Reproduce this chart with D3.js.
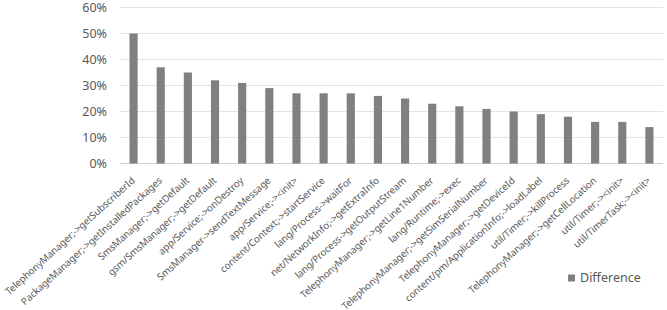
<!DOCTYPE html>
<html><head><meta charset="utf-8">
<script src="https://cdn.jsdelivr.net/npm/d3@7"></script>
<style>body{margin:0;background:#fff;}svg{display:block;}</style>
</head><body>
<svg id="c" width="667" height="310"></svg>
<script>
const categories = [
"TelephonyManager;->getSubscriberId","PackageManager;->getInstalledPackages","SmsManager;->getDefault",
"gsm/SmsManager;->getDefault","app/Service;->onDestroy","SmsManager->sendTextMessage","app/Service;-><init>",
"content/Context;->startService","lang/Process->waitFor","net/NetworkInfo;->getExtraInfo",
"lang/Process->getOutputStream","TelephonyManager;->getLine1Number","lang/Runtime;->exec",
"TelephonyManager;->getSimSerialNumber","TelephonyManager;->getDeviceId","content/pm/ApplicationInfo;->loadLabel",
"util/Timer;->killProcess","TelephonyManager;->getCellLocation","util/Timer;-><init>","util/TimerTask;-><init>"];
const values = [0.50,0.37,0.35,0.32,0.31,0.29,0.27,0.27,0.27,0.26,0.25,0.23,0.22,0.21,0.20,0.19,0.18,0.16,0.16,0.14];
const yTicks = [0,0.1,0.2,0.3,0.4,0.5,0.6];
const seriesName = "Difference";

const svg = d3.select("#c");
const font = "'Noto Sans', sans-serif";
const pLeft = 120, pRight = 663, pTop = 7.5, pBottom = 163.5;
const x = d3.scaleBand().domain(categories).range([pLeft, pRight]).paddingInner(0.7).paddingOuter(0.35);
const y = d3.scaleLinear().domain([0, 0.6]).range([pBottom, pTop]);

svg.append("g").selectAll("line").data(yTicks).join("line")
  .attr("x1", pLeft).attr("x2", pRight)
  .attr("y1", d => y(d)).attr("y2", d => y(d))
  .attr("stroke", d => d === 0 ? "#d0d0d0" : "#e3e3e3").attr("stroke-width", 1.2);

svg.append("g").selectAll("text").data(yTicks).join("text")
  .attr("x", 107).attr("y", d => y(d)).attr("dy", "0.35em")
  .attr("text-anchor", "end").attr("font-family", font).attr("font-size", 12.5)
  .attr("fill", "#595959").text(d => d3.format(".0%")(d));

svg.append("g").selectAll("rect").data(values).join("rect")
  .attr("x", (d, i) => x(categories[i])).attr("width", x.bandwidth())
  .attr("y", d => y(d)).attr("height", d => y(0) - y(d))
  .attr("fill", "#808080");

svg.append("g").selectAll("text").data(categories).join("text")
  .attr("transform", d => `translate(${x(d) + x.bandwidth()/2 + 2},${pBottom + 18}) rotate(-42)`)
  .attr("text-anchor", "end")
  .attr("font-family", font).attr("font-size", 9.8).attr("letter-spacing", -0.1)
  .attr("fill", "#595959").text(d => d);

const lg = svg.append("g").attr("transform", "translate(568,278)");
lg.append("rect").attr("x", 0).attr("y", -3.5).attr("width", 7).attr("height", 7).attr("fill", "#808080");
lg.append("text").attr("x", 12).attr("y", 0).attr("dy", "0.35em")
  .attr("font-family", font).attr("font-size", 12.5).attr("fill", "#595959").text(seriesName);
</script>
</body></html>
